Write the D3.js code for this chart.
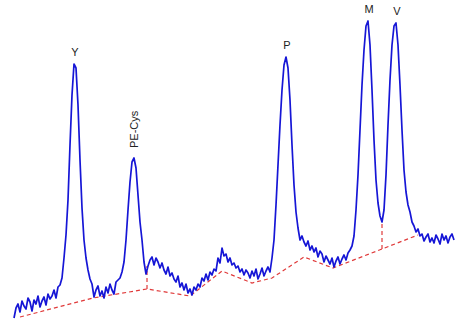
<!DOCTYPE html>
<html>
<head>
<meta charset="utf-8">
<script src="https://cdn.jsdelivr.net/npm/d3@7"></script>
<style>
    body { margin: 0; background: #fff; }
    #chart { width: 464px; height: 326px; }
</style>
</head>
<body>
<div id="chart"></div>
<script>

// detector signal (mAU), one reading every 0.1 min starting at 0 min
const sampleInterval = 0.1;
const signal = [
    2, 12, 16, 8, 19, 14, 11, 22, 18, 9, 20, 16, 24, 13, 19, 23, 15, 26, 21, 24,
    30, 22, 33, 35, 42, 62, 85, 120, 175, 225, 256, 252, 215, 160, 112, 80, 62, 50, 41, 36,
    23, 30, 34, 24, 29, 22, 33, 27, 36, 30, 26, 38, 40, 42, 48, 58, 80, 110, 138, 158,
    162, 152, 125, 98, 80, 58, 46, 54, 60, 63, 55, 62, 58, 52, 57, 50, 46, 53, 44, 47,
    41, 38, 44, 33, 37, 30, 36, 27, 31, 25, 33, 30, 36, 33, 42, 39, 46, 40, 48, 45,
    51, 49, 62, 57, 72, 64, 66, 58, 62, 55, 57, 52, 54, 48, 51, 45, 50, 47, 42, 49,
    44, 51, 41, 46, 52, 44, 49, 53, 48, 62, 80, 115, 155, 195, 230, 255, 263, 252, 220, 175,
    135, 108, 92, 80, 84, 78, 74, 79, 70, 74, 68, 72, 63, 69, 66, 58, 64, 60, 56, 62,
    53, 59, 63, 56, 61, 65, 60, 67, 70, 74, 84, 110, 145, 190, 235, 270, 294, 299, 275, 230,
    180, 140, 117, 104, 98, 110, 145, 195, 240, 275, 294, 297, 275, 235, 190, 150, 128, 115, 108, 98,
    94, 88, 91, 84, 86, 79, 83, 86, 78, 82, 77, 85, 81, 76, 86, 80, 84, 77, 83, 86,
    80
];

// integration baseline (min, mAU)
const baseTimes = [0.3, 3.95, 6.65, 8.8, 10.4, 11.9, 12.9, 14.5, 15.95, 18.4, 20.2];
const baseValues = [3, 22, 31, 24, 49, 37, 42, 63, 52, 71, 85];

// peak split lines (min)
const dropTimes = [6.65, 18.4];

// labelled peaks
const peakNames = ["Y", "PE-Cys", "P", "M", "V"];
const peakTimes = [3.0, 6.0, 13.6, 17.7, 19.1];
const rotatedLabels = ["PE-Cys"];

class ChromatogramChart {

    constructor () {
        let divChart = d3.select("#chart");
        this.width = 464;
        this.height = 326;

        this.svg = divChart.append("svg")
            .attr("width", this.width)
            .attr("height", this.height);

        this.xScale = d3.scaleLinear()
            .domain([0, 22])
            .range([14, 454]);

        this.yScale = d3.scaleLinear()
            .domain([0, 300])
            .range([320, 20]);

        this.points = signal.map(function(v, i){
            return {t: i * sampleInterval, v: v};
        });
    };

    valueAt (t) {
        let i = Math.round(t / sampleInterval);
        return signal[Math.max(0, Math.min(signal.length - 1, i))];
    };

    baseAt (t) {
        for(var i = 0; i < baseTimes.length - 1; i++)
        {
            if(t >= baseTimes[i] && t <= baseTimes[i + 1])
            {
                let k = (t - baseTimes[i]) / (baseTimes[i + 1] - baseTimes[i]);
                return baseValues[i] + k * (baseValues[i + 1] - baseValues[i]);
            }
        }
        return baseValues[baseValues.length - 1];
    };

    draw () {
        let self = this;

        let baseLine = d3.line()
            .x(function(d, i){ return self.xScale(baseTimes[i]); })
            .y(function(d){ return self.yScale(d); });

        this.svg.append("path")
            .datum(baseValues)
            .attr("d", baseLine)
            .attr("fill", "none")
            .attr("stroke", "#e03a3a")
            .attr("stroke-width", 1.2)
            .attr("stroke-dasharray", "4,3");

        this.svg.selectAll(".drop")
            .data(dropTimes).enter()
            .append("line")
            .attr("class", "drop")
            .attr("x1", d => self.xScale(d))
            .attr("x2", d => self.xScale(d))
            .attr("y1", d => self.yScale(self.baseAt(d)))
            .attr("y2", d => self.yScale(self.valueAt(d)))
            .attr("stroke", "#e03a3a")
            .attr("stroke-width", 1.2)
            .attr("stroke-dasharray", "4,3");

        let line = d3.line()
            .x(d => self.xScale(d.t))
            .y(d => self.yScale(d.v));

        this.svg.append("path")
            .datum(this.points)
            .attr("d", line)
            .attr("fill", "none")
            .attr("stroke", "#1616d6")
            .attr("stroke-width", 1.7)
            .attr("stroke-linejoin", "round");

        let labels = this.svg.selectAll(".peak-label")
            .data(peakNames).enter()
            .append("text")
            .attr("class", "peak-label")
            .attr("font-family", "'Liberation Sans', Arial, sans-serif")
            .attr("font-size", "11px")
            .attr("fill", "#222")
            .text(d => d);

        labels.each(function(d, i){
            let px = self.xScale(peakTimes[i]);
            let py = self.yScale(self.valueAt(peakTimes[i]));
            if(rotatedLabels.indexOf(d) >= 0)
            {
                d3.select(this)
                    .attr("text-anchor", "start")
                    .attr("transform", "translate(" + (px + 4) + "," + (py - 10) + ") rotate(-90)");
            }
            else
            {
                d3.select(this)
                    .attr("text-anchor", "middle")
                    .attr("x", px + 1)
                    .attr("y", py - 8);
            }
        });
    };
};

let chart = new ChromatogramChart();
chart.draw();

</script>
</body>
</html>
